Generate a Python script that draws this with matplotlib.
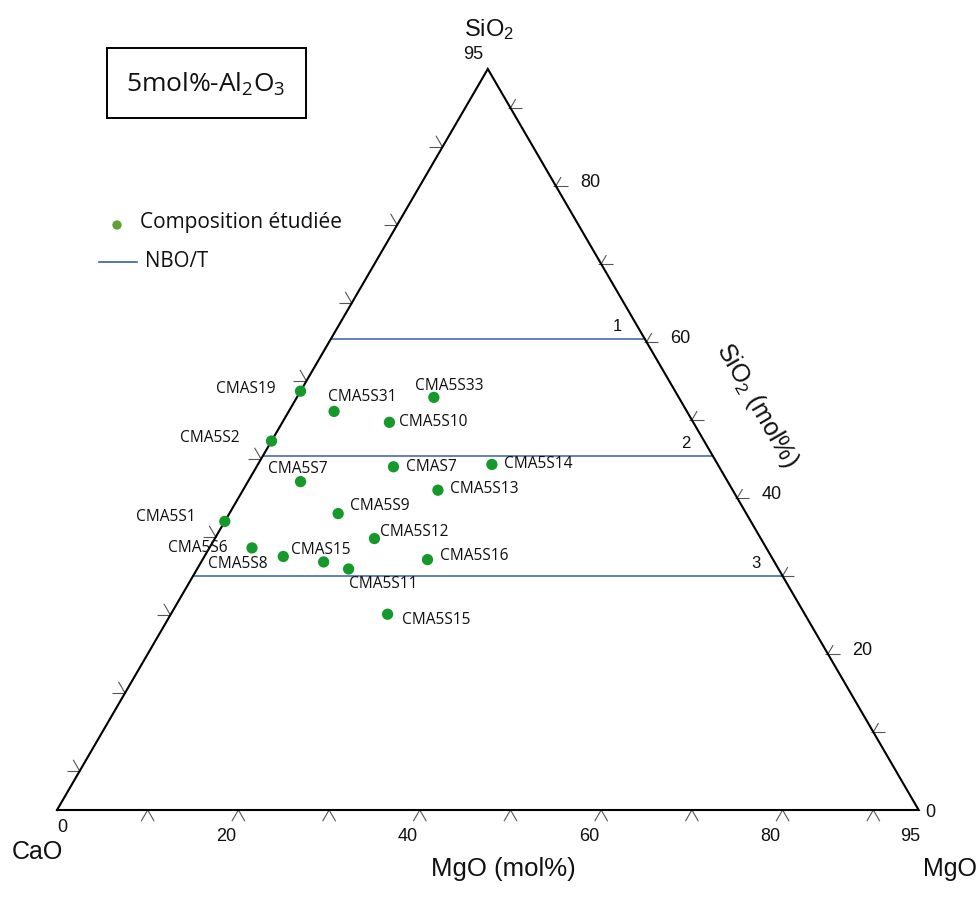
"""
Ternary diagram CaO - MgO - SiO2 at 5 mol% Al2O3
with the studied compositions and NBO/T iso-lines.
"""

import matplotlib
matplotlib.use("Agg")
import matplotlib.pyplot as plt
import numpy as np
from matplotlib.collections import LineCollection
from matplotlib.patches import Rectangle

# ---------------------------------------------------------------------------
# Data (mol%, SiO2 + MgO + CaO = 95, Al2O3 fixed at 5)
# ---------------------------------------------------------------------------
samples = ["CMAS19", "CMA5S31", "CMA5S33", "CMA5S10", "CMA5S2", "CMA5S7",
           "CMAS7", "CMA5S14", "CMA5S13", "CMA5S9", "CMA5S1", "CMA5S12",
           "CMA5S6", "CMA5S8", "CMAS15", "CMA5S11", "CMA5S16", "CMA5S15"]
sio2 = [53.7, 51.1, 52.9, 49.7, 47.3, 42.1,
        44.0, 44.3, 41.0, 38.0, 37.0, 34.8,
        33.6, 32.5, 31.8, 30.9, 32.1, 25.1]
mgo = [0.0, 5.0, 15.1, 11.8, 0.0, 5.8,
       15.1, 25.8, 21.5, 12.0, 0.0, 17.6,
       4.7, 8.7, 13.5, 16.7, 24.8, 23.9]

nbo_t = ["1", "2", "3"]
nbo_sio2 = [60.4, 45.4, 30.0]

TOTAL = 95
tick_values = [10, 20, 30, 40, 50, 60, 70, 80, 90]
label_values = [20, 40, 60, 80]

# label placement (pixel offsets from the point, alignment)
label_layout = {
    "CMAS19": (-25, 2, "right"), "CMA5S31": (-6, 14, "left"),
    "CMA5S33": (15, 11, "center"), "CMA5S10": (10, 0, "left"),
    "CMA5S2": (-32, 3, "right"), "CMA5S7": (-3, 13, "center"),
    "CMAS7": (13, 0, "left"), "CMA5S14": (12, 0, "left"),
    "CMA5S13": (12, 1, "left"), "CMA5S9": (12, 8, "left"),
    "CMA5S1": (-29, 4, "right"), "CMA5S12": (6, 7, "left"),
    "CMA5S6": (-24, 0, "right"), "CMA5S8": (-16, -8, "right"),
    "CMAS15": (-3, 12, "center"), "CMA5S11": (0, -15, "left"),
    "CMA5S16": (12, 4, "left"), "CMA5S15": (14, -6, "left"),
}

# ---------------------------------------------------------------------------
# Geometry helpers
# ---------------------------------------------------------------------------
W, H = 979, 905
X0, Y0 = 57, 810                   # pixel of CaO corner
KX, KY = 9.07, 9.007               # pixels per unit (x, y)
H3 = np.sqrt(3) / 2


def tern(si, mg):
    si = np.asarray(si, float)
    mg = np.asarray(mg, float)
    return mg + si / 2, si * H3


def px(xp, yp):
    """pixel position (from top-left) -> data coords, for text placement"""
    return (xp - X0) / KX, (Y0 - yp) / KY


NUM = "Liberation Sans"
LAB = "Open Sans"
TXT = "#111111"

fig = plt.figure(figsize=(W / 100, H / 100), dpi=100)
ax = fig.add_axes([0, 0, 1, 1])
ax.set_xlim((0 - X0) / KX, (W - X0) / KX)
ax.set_ylim((Y0 - H) / KY, Y0 / KY)
ax.axis("off")

# triangle
cx, cy = tern([0, 0, TOTAL, 0], [0, TOTAL, 0, 0])
ax.plot(cx, cy, color="black", lw=1.5, solid_joinstyle="miter", zorder=3)

# arrow-like ticks on the three edges
L = 13 / KX
segs = []
for v in tick_values:
    # left edge (CaO)
    x, y = tern(TOTAL - v, 0)
    segs += [[(x, y), (x - L, y)], [(x, y), (x - L / 2, y + L * H3)]]
    # right edge (SiO2)
    x, y = tern(v, TOTAL - v)
    segs += [[(x - 0.3, y), (x + L * 0.9, y)], [(x, y), (x + L / 2 * 0.8, y + L * H3 * 0.8)]]
    # bottom edge (MgO)
    x, y = tern(0, v)
    segs += [[(x, y), (x - L / 2, y - L * H3)], [(x, y), (x + L / 2, y - L * H3)]]
ax.add_collection(LineCollection(segs, colors="#555555", linewidths=0.8, zorder=2))

# tick labels
for v in label_values:
    x, y = tern(v, TOTAL - v)
    ax.annotate(str(v), (x, y), xytext=(24, 3), textcoords="offset pixels",
                ha="left", va="center", fontsize=13, family=NUM, color=TXT)
    x, y = tern(0, v)
    ax.annotate(str(v), (x, y), xytext=(-12, -26), textcoords="offset pixels",
                ha="center", va="center", fontsize=13, family=NUM, color=TXT)

corner_labels = [((TOTAL, 0), "95", (-15, 14)), ((0, TOTAL), "0", (12, -2)),
                 ((0, 0), "0", (5, -17)), ((0, TOTAL), "95", (-8, -26))]
for (si, mg), t, off in corner_labels:
    ax.annotate(t, tern(si, mg), xytext=off, textcoords="offset pixels",
                ha="center", va="center", fontsize=13, family=NUM, color=TXT)

# NBO/T lines
for lab, s in zip(nbo_t, nbo_sio2):
    xl, yl = tern(s, 0)
    xr, yr = tern(s, TOTAL - s)
    ax.plot([xl, xr], [yl, yr], color="#3a5ca8", lw=1.1, zorder=2)
    ax.annotate(lab, (xr, yr), xytext=(-27, 12), textcoords="offset pixels",
                ha="center", va="center", fontsize=12, family=NUM, color=TXT)

# compositions
xs, ys = tern(sio2, mgo)
ax.scatter(xs, ys, s=66, color="#14992a", edgecolors="none", zorder=4)
for name, x, y in zip(samples, xs, ys):
    dx, dy, ha = label_layout[name]
    ax.annotate(name, (x, y), xytext=(dx, dy), textcoords="offset pixels",
                ha=ha, va="center", fontsize=11.2, family=LAB, color=TXT)

# axis names
ax.text(*px(489, 30), r"SiO$\mathregular{_2}$", ha="center", va="center",
        fontsize=17, family=NUM, color=TXT)
ax.text(*px(37, 852), "CaO", ha="center", va="center", fontsize=18, family=NUM, color=TXT)
ax.text(*px(950, 869), "MgO", ha="center", va="center", fontsize=18, family=NUM, color=TXT)
ax.text(*px(503, 869), "MgO (mol%)", ha="center", va="center", fontsize=18.5, family=NUM, color=TXT)
ax.text(*px(757, 405), r"SiO$\mathregular{_2}$ (mol%)", ha="center", va="center",
        rotation=-60, rotation_mode="anchor", fontsize=18, family=NUM, color=TXT)

# title box
bx0, by0 = px(107, 118)
bx1, by1 = px(306, 48)
ax.add_patch(Rectangle((bx0, by0), bx1 - bx0, by1 - by0, fill=False,
                       edgecolor="black", lw=1.4))
ax.text(*px(206, 84), r"5mol%-Al$\mathregular{_2}$O$\mathregular{_3}$",
        ha="center", va="center", fontsize=19, family=LAB, color=TXT)

# legend
lx, ly = px(117, 225)
ax.scatter([lx], [ly], s=45, color="#62a035", edgecolors="none")
ax.text(*px(140, 223), "Composition étudiée", ha="left", va="center",
        fontsize=15, family=LAB, color=TXT)
l0, ly2 = px(99, 262)
l1, _ = px(137, 262)
ax.plot([l0, l1], [ly2, ly2], color="#3a5ca8", lw=1.2)
ax.text(*px(145, 262), "NBO/T", ha="left", va="center",
        fontsize=14.8, family=LAB, color=TXT)

fig.savefig("out.png", dpi=100, facecolor="white")
